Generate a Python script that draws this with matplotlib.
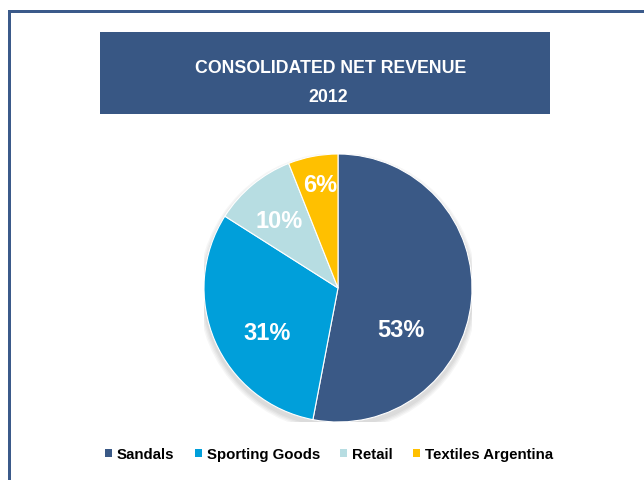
import matplotlib
matplotlib.use("Agg")
import matplotlib.pyplot as plt
from matplotlib.patches import Rectangle, Circle

# Revenue share by segment, 2012
segments = ["Sandals", "Sporting Goods", "Retail", "Textiles Argentina"]
shares = [53, 31, 10, 6]
colors = ["#3A5986", "#009FDA", "#B7DDE2", "#FFC000"]
# label anchor points inside each wedge (pie-radius units)
label_xy = [(0.47, -0.31), (-0.53, -0.33), (-0.44, 0.50), (-0.135, 0.77)]

title_line1 = "CONSOLIDATED NET REVENUE"
title_line2 = "2012"

W, H = 644, 481
fig = plt.figure(figsize=(W / 100, H / 100), dpi=100)
fig.patch.set_facecolor("white")
font = "Liberation Sans"

# outer frame (top and left edges visible)
frame_color = "#3B5A8A"
fig.add_artist(Rectangle((8 / W, 0), 2.5 / W, (H - 11) / H, transform=fig.transFigure,
                         facecolor=frame_color, edgecolor="none"))
fig.add_artist(Rectangle((8 / W, (H - 14) / H), (W - 8) / W, 3 / H, transform=fig.transFigure,
                         facecolor=frame_color, edgecolor="none"))

# title banner
fig.add_artist(Rectangle((100 / W, (H - 115) / H), 450 / W, 82 / H, transform=fig.transFigure,
                         facecolor="#385784", edgecolor="none"))
fig.text(331 / W, (H - 69) / H, title_line1, color="white", fontsize=12.8, fontweight="bold",
         family=font, ha="center", va="center")
fig.text(328 / W, (H - 98) / H, title_line2, color="white", fontsize=12.8, fontweight="bold",
         family=font, ha="center", va="center")

# pie
cx, cy, r = 338, H - 289, 134
ax = fig.add_axes([(cx - r) / W, (cy - r) / H, 2 * r / W, 2 * r / H])
ax.axis("off")

# soft drop shadow under the pie
for i in range(4):
    ax.add_patch(Circle((0.0, -0.03), 1.0 + 0.01 * (4 - i), facecolor="black",
                        edgecolor="none", alpha=0.035, zorder=0))

wedges, _ = ax.pie(shares, colors=colors, startangle=90, counterclock=False, radius=1,
                   wedgeprops=dict(linewidth=0.8, edgecolor="white"))
for w in wedges:
    w.set_zorder(2)
ax.set_xlim(-1, 1)
ax.set_ylim(-1, 1)

for v, (lx, ly) in zip(shares, label_xy):
    ax.text(lx, ly, f"{v}%", color="white", fontsize=17, fontweight="bold",
            family=font, ha="center", va="center", zorder=3)

# legend
handles = [Rectangle((0, 0), 1, 1, facecolor=c, edgecolor="none") for c in colors]
leg = fig.legend(handles, segments, loc="center", bbox_to_anchor=(329 / W, (H - 455) / H),
                 ncol=4, frameon=False, handlelength=0.46, handleheight=0.46,
                 handletextpad=0.33, columnspacing=1.35, borderpad=0, borderaxespad=0,
                 prop=dict(family=font, weight="bold", size=10.8))

fig.savefig("out.png", dpi=100)
